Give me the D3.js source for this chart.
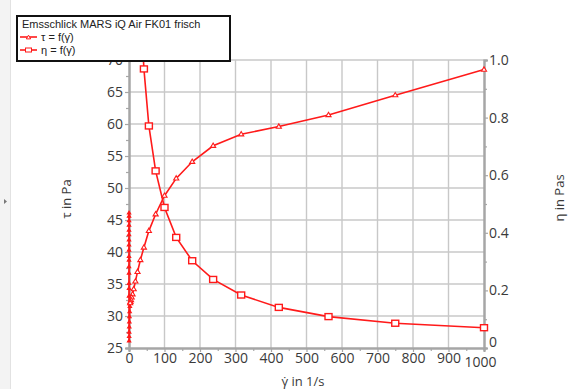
<!DOCTYPE html>
<html><head><meta charset="utf-8">
<script src="https://cdn.jsdelivr.net/npm/d3@7"></script>
<style>
html,body{margin:0;padding:0;background:#fff;}
svg{display:block;font-family:"Open Sans","Noto Sans",sans-serif;}
</style></head>
<body>
<svg id="chart" width="568" height="389"></svg>
<script>
// ---- data ----
const legendTitle = "Emsschlick MARS iQ Air FK01 frisch";
const seriesNames = ["τ = f(γ̇)", "η = f(γ̇)"];
const xTicks = [0,100,200,300,400,500,600,700,800,900,1000];
const yLeftTicks = [25,30,35,40,45,50,55,60,65,70];
const yRightTicks = [0,0.2,0.4,0.6,0.8,1.0];
// shear stress series (shear rate, tau)
const tauRate = [1000,750,562,422,316,237,178,133,100,75,56,42,32,24,18,13.3,10,7.5,5.6,4.2,3.2,
  2.4,1.8,1.3,1.0,0.75,0.56,0.42,0.32,
  0.24,0.18,0.13,0.1,0.075,0.056,0.042,0.032,0.024,0.018,0.013,0.01,0.008,0.006,0.005,0.004];
const tauVal = [68.5,64.5,61.4,59.6,58.4,56.6,54.1,51.5,48.8,45.9,43.3,40.7,38.75,36.9,35.4,34.2,33.4,32.9,32.5,32.2,32.0,
  31.5,30.7,29.9,29.1,28.3,27.5,26.8,26.1,
  46.1,45.6,44.9,44.2,43.4,42.7,41.9,41.1,40.3,39.3,38.75,37.7,36.7,35.1,34.3,33.1];
// viscosity series (shear rate, eta)
const etaRate = [1000,750,562,422,316,237,178,133,100,75,56,42,32,24];
const etaVal = [0.0705,0.086,0.109,0.141,0.184,0.238,0.303,0.384,0.488,0.615,0.771,0.969,1.21,1.54];

const svg = d3.select("#chart");
const L=129, R=484, T=60, B=348;
const x = d3.scaleLinear().domain([0,1000]).range([L,R]);
const yL = d3.scaleLinear().domain([25,70]).range([B,T]);
const yR = d3.scaleLinear().domain([0,1]).range([B,T]);
const red = "#ff1a1a", gridC = "#c8c8c8", axisC = "#a6a6a6", txtC = "#3a3a3a";

// left panel strip
svg.append("rect").attr("x",0).attr("y",0).attr("width",10).attr("height",389).attr("fill","#f3f3f3");
svg.append("line").attr("x1",10.5).attr("x2",10.5).attr("y1",0).attr("y2",389).attr("stroke","#e2e2e2");
svg.append("path").attr("d","M4,199 L7,201.5 L4,204 Z").attr("fill","#777");

// grid
const g = svg.append("g");
g.selectAll(".vg").data(xTicks.slice(1,-1)).join("line")
  .attr("x1",d=>x(d)).attr("x2",d=>x(d)).attr("y1",T).attr("y2",B)
  .attr("stroke",gridC).attr("stroke-width",1.4);
g.selectAll(".hg").data(yLeftTicks.slice(1)).join("line")
  .attr("x1",L).attr("x2",R).attr("y1",d=>yL(d)).attr("y2",d=>yL(d))
  .attr("stroke",gridC).attr("stroke-width",1.4);

// axes
const axL = d3.axisLeft(yL).tickValues(yLeftTicks).tickSize(4).tickPadding(2);
const axLm = d3.axisLeft(yL).tickValues(d3.range(27.5,70,5)).tickSize(3).tickFormat("");
const axR = d3.axisRight(yR).tickValues(yRightTicks).tickSize(4).tickPadding(1);
const axRm = d3.axisRight(yR).tickValues(d3.range(0.1,1,0.2)).tickSize(3).tickFormat("");
const axB = d3.axisBottom(x).tickValues(xTicks).tickSize(4).tickPadding(1).tickFormat(d3.format("d"));
const axBm = d3.axisBottom(x).tickValues(d3.range(50,1000,100)).tickSize(3).tickFormat("");

function style(sel){
  sel.select(".domain").attr("stroke",axisC).attr("stroke-width",2);
  sel.selectAll(".tick line").attr("stroke",axisC).attr("stroke-width",1.2);
  sel.selectAll(".tick text").attr("fill",txtC).style("font-size","14px")
     .style("font-family","'Open Sans','Noto Sans',sans-serif");
}
svg.append("g").attr("transform",`translate(${L},0)`).call(axLm).call(style);
svg.append("g").attr("transform",`translate(${L},0)`).call(axL).call(style);
svg.append("g").attr("transform",`translate(${R},0)`).call(axRm).call(style);
const gR = svg.append("g").attr("transform",`translate(${R},0)`).call(axR).call(style);
gR.selectAll(".tick text").text(d=> d===0 ? "0" : d3.format(".1f")(d));
gR.selectAll(".tick text").filter(d=>d===0).attr("dy","-0.1em");
const gB0 = svg.append("g").attr("transform",`translate(0,${B})`).call(axBm).call(style);
const gB = svg.append("g").attr("transform",`translate(0,${B})`).call(axB).call(style);
gB.selectAll(".tick text").filter(d=>d===1000).attr("dx",-4).attr("dy","1.0em");

// titles
svg.append("text").attr("x",303).attr("y",386).attr("text-anchor","middle")
  .attr("fill",txtC).style("font-size","13px").text("γ̇ in 1/s");
svg.append("text").attr("transform","translate(71,199) rotate(-90)").attr("text-anchor","middle")
  .attr("fill",txtC).style("font-size","13px").text("τ in Pa");
svg.append("text").attr("transform","translate(564,198) rotate(-90)").attr("text-anchor","middle")
  .attr("fill",txtC).style("font-size","13px").text("η in Pas");

// clip
svg.append("clipPath").attr("id","clip").append("rect")
  .attr("x",L-6).attr("y",T-1).attr("width",R-L+12).attr("height",B-T+7);
const plot = svg.append("g").attr("clip-path","url(#clip)");

const tauData = tauRate.map((r,i)=>({r, v:tauVal[i], i})).filter(d=>d.v!==undefined);
const etaData = etaRate.map((r,i)=>({r, v:etaVal[i]}));

plot.append("path").datum(tauData)
  .attr("d", d3.line().x(d=>x(d.r)).y(d=>yL(d.v)))
  .attr("fill","none").attr("stroke",red).attr("stroke-width",1.6);
plot.append("path").datum(etaData)
  .attr("d", d3.line().x(d=>x(d.r)).y(d=>yR(d.v)))
  .attr("fill","none").attr("stroke",red).attr("stroke-width",1.6);

// triangle markers
const tri = s => `M0,${-s} L${s*0.95},${s*0.6} L${-s*0.95},${s*0.6} Z`;
plot.selectAll(".tm").data(tauData).join("path")
  .attr("transform",d=>`translate(${x(d.r)},${yL(d.v)})`)
  .attr("d",d=> d.r>=3 ? tri(2.7) : tri(1.8))
  .attr("fill",d=> d.r>=3 ? "#fff" : red).attr("stroke",red).attr("stroke-width",1.1);
// square markers
plot.selectAll(".sm").data(etaData).join("rect")
  .attr("x",d=>x(d.r)-3.5).attr("y",d=>yR(d.v)-3).attr("width",7).attr("height",6)
  .attr("fill","#fff").attr("stroke",red).attr("stroke-width",1.4);

// legend
const lf = "'Liberation Sans','DejaVu Sans',sans-serif";
const lg = svg.append("g");
lg.append("rect").attr("x",17).attr("y",16).attr("width",213).attr("height",45)
  .attr("fill","#fff").attr("stroke","#111").attr("stroke-width",2);
lg.append("text").attr("x",22).attr("y",28).attr("fill","#222").style("font-family",lf).style("font-size","11px").text(legendTitle);
seriesNames.forEach((n,i)=>{
  const yy = 37 + i*13;
  lg.append("line").attr("x1",20).attr("x2",37).attr("y1",yy).attr("y2",yy).attr("stroke",red).attr("stroke-width",1.6);
  if(i===0) lg.append("path").attr("transform",`translate(28.5,${yy+0.5})`).attr("d",tri(2.3)).attr("fill","#fff").attr("stroke",red);
  else lg.append("rect").attr("x",25.5).attr("y",yy-2).attr("width",6).attr("height",4).attr("fill","#fff").attr("stroke",red);
  lg.append("text").attr("x",41).attr("y",yy+4).attr("fill","#222").style("font-family",lf).style("font-size","11px").text(n);
});
</script>
</body></html>
